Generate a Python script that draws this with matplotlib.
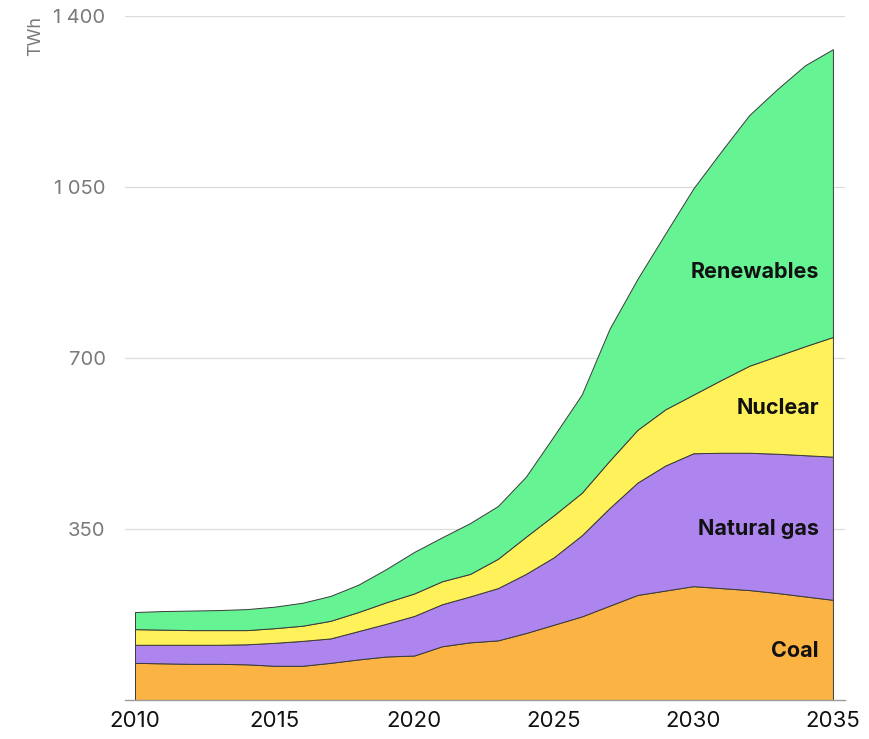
import numpy as np
import matplotlib
matplotlib.use("Agg")
import matplotlib.pyplot as plt

# Datos (TWh por año)
anios = list(range(2010, 2036))
carbon = [76, 75, 74, 74, 73, 70, 70, 76, 83, 89, 91, 110, 118, 122, 137, 154,
          171, 193, 215, 224, 233, 229, 225, 219, 212, 205]
gas = [37, 38, 39, 39, 41, 47, 51, 50, 58, 67, 81, 86, 94, 107, 121, 138,
       166, 200, 230, 256, 272, 277, 281, 285, 289, 293]
nuclear = [32, 31, 30, 30, 29, 30, 31, 36, 39, 44, 46, 47, 46, 60, 76, 86,
           87, 97, 108, 115, 120, 149, 178, 200, 223, 245]
renovables = [35, 38, 40, 41, 43, 44, 47, 51, 56, 68, 85, 90, 104, 108, 123, 162,
              201, 270, 309, 360, 422, 468, 513, 546, 575, 589]

etiquetas = ['Coal', 'Natural gas', 'Nuclear', 'Renewables']
colores = ['#FBB343', '#AE85EE', '#FFF15A', '#66F393']
yticks = [350, 700, 1050, 1400]
xticks = [2010, 2015, 2020, 2025, 2030, 2035]

plt.rcParams['font.family'] = ['Inter', 'DejaVu Sans']

fig = plt.figure(figsize=(8.69, 7.39), dpi=100)
ax = fig.add_axes([0.1438, 0.0528, 0.8285, 0.9256])

ax.stackplot(anios, carbon, gas, nuclear, renovables, colors=colores,
             edgecolor='#3a3a3a', linewidth=0.7, zorder=2)

ax.set_xlim(2009.64, 2035.43)
ax.set_ylim(0, 1400)

ax.set_yticks(yticks)
ax.set_yticklabels([f'{v:,}'.replace(',', ' ') for v in yticks])
ax.set_xticks(xticks)
ax.tick_params(axis='y', length=0, pad=14, labelsize=14.5, labelcolor='#7a7a7a')
ax.tick_params(axis='x', length=0, pad=8, labelsize=16, labelcolor='#111111')

ax.grid(axis='y', color='#dcdcdc', linewidth=0.9, zorder=0)
for lado in ['top', 'right', 'left']:
    ax.spines[lado].set_visible(False)
ax.spines['bottom'].set_color('#9a9a9a')
ax.spines['bottom'].set_linewidth(1.0)
ax.spines['bottom'].set_zorder(3)

fig.text(0.041, 0.979, 'TWh', rotation=90, ha='center', va='top',
         fontsize=13, color='#7a7a7a')

# Etiquetas dentro de las areas
pos_y = [100, 350, 598, 876]
for texto, y in zip(etiquetas, pos_y):
    ax.text(2034.5, y, texto, ha='right', va='center', fontsize=15.5,
            fontweight='bold', color='#111111', zorder=4)

fig.savefig('out.png', dpi=100)
